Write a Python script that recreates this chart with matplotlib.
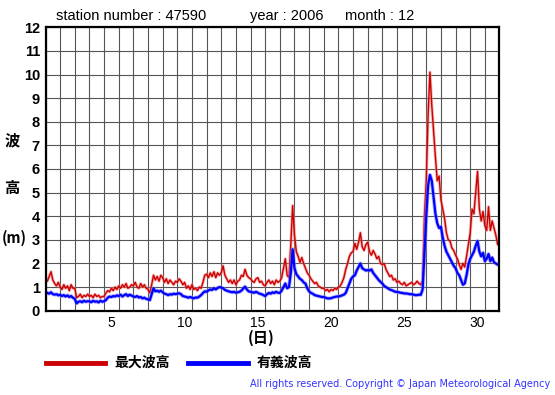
import matplotlib
matplotlib.use('Agg')
import matplotlib.pyplot as plt
import numpy as np

# 3-hourly samples, Dec 1 00h .. Dec 32 00h (8 per day + final point)
max_wave = [
    1.35, 1.25, 1.45, 1.65, 1.3, 1.15, 1.05, 1.2,
    1.0, 0.9, 1.1, 0.95, 1.05, 0.85, 1.1, 0.95,
    0.95, 0.55, 0.6, 0.7, 0.55, 0.65, 0.6, 0.7,
    0.6, 0.65, 0.55, 0.7, 0.6, 0.65, 0.55, 0.6,
    0.6, 0.75, 0.85, 0.8, 0.95, 0.85, 1.0, 0.9,
    1.05, 0.95, 1.1, 1.0, 1.15, 0.95, 1.0, 1.1,
    1.05, 1.2, 1.0, 0.95, 1.15, 1.0, 1.1, 0.95,
    0.9, 0.75, 1.1, 1.5, 1.3, 1.45, 1.25, 1.5,
    1.4, 1.2, 1.35, 1.15, 1.3, 1.2, 1.1, 1.25,
    1.2, 1.35, 1.25, 1.1, 1.2, 0.95, 1.05, 0.9,
    1.1, 0.9, 0.95, 0.85, 1.0, 0.95, 1.2, 1.5,
    1.55, 1.4, 1.6, 1.45, 1.65, 1.4, 1.6, 1.5,
    1.6, 1.9, 1.5, 1.35, 1.2, 1.3, 1.15, 1.3,
    1.1, 1.25, 1.3, 1.5, 1.45, 1.75, 1.5, 1.4,
    1.35, 1.25, 1.2, 1.35, 1.4, 1.2, 1.25, 1.1,
    1.05, 1.2, 1.3, 1.15, 1.25, 1.1, 1.3, 1.2,
    1.25, 1.4, 1.8, 2.2, 1.5, 1.4, 2.8, 4.45,
    3.2, 2.5, 2.3, 2.05, 2.25, 2.0, 1.8, 1.6,
    1.5, 1.35, 1.25, 1.15, 1.2, 1.05, 1.0, 0.95,
    0.95, 0.85, 0.9, 0.8, 0.9, 0.85, 0.95, 0.9,
    1.0, 1.05, 1.2, 1.4, 1.75, 2.0, 2.3, 2.45,
    2.5, 2.85, 2.6, 2.9, 3.3, 2.7, 2.55, 2.8,
    2.9, 2.5, 2.35, 2.55, 2.4, 2.2, 2.3, 2.0,
    1.95, 2.0, 1.75, 1.6, 1.45, 1.5, 1.3, 1.35,
    1.2, 1.25, 1.15, 1.1, 1.2, 1.05, 1.1, 1.15,
    1.2, 1.1, 1.15, 1.25, 1.15, 1.1, 1.3, 4.0,
    5.5, 8.3, 10.1, 8.7, 7.6, 6.5, 5.5, 5.7,
    4.7, 4.3, 3.9, 3.3, 3.0, 2.95, 2.65, 2.55,
    2.35, 2.2, 1.95, 1.75, 2.0, 1.85, 2.3, 2.8,
    3.3, 4.3, 4.1, 5.0, 5.9, 4.3, 3.8, 4.2,
    3.6, 3.4, 4.4, 3.4, 3.8, 3.5, 3.2, 2.8,
    3.0,
]

sig_wave = [
    0.8, 0.75, 0.72, 0.78, 0.7, 0.68, 0.7, 0.65,
    0.68, 0.62, 0.66, 0.6, 0.65, 0.58, 0.62, 0.55,
    0.5, 0.31, 0.38, 0.4, 0.36, 0.42, 0.38, 0.4,
    0.4, 0.36, 0.42, 0.38, 0.4, 0.35, 0.42, 0.38,
    0.4, 0.45, 0.55, 0.6, 0.58, 0.62, 0.6, 0.65,
    0.62, 0.68, 0.6, 0.66, 0.7, 0.62, 0.68, 0.64,
    0.6, 0.58, 0.62, 0.56, 0.58, 0.52, 0.55, 0.5,
    0.48, 0.45, 0.7, 0.95, 0.82, 0.85, 0.8, 0.85,
    0.78, 0.72, 0.7, 0.66, 0.7, 0.68, 0.72, 0.7,
    0.72, 0.74, 0.7, 0.62, 0.6, 0.58, 0.55, 0.58,
    0.55, 0.52, 0.56, 0.55, 0.6, 0.66, 0.75, 0.82,
    0.8, 0.86, 0.9, 0.88, 0.95, 0.9, 0.96, 1.0,
    0.98, 0.95, 0.88, 0.85, 0.82, 0.8, 0.78, 0.8,
    0.76, 0.78, 0.8, 0.85, 0.94, 1.02, 0.9, 0.82,
    0.8, 0.78, 0.76, 0.8, 0.76, 0.72, 0.7, 0.66,
    0.62, 0.7, 0.75, 0.72, 0.78, 0.75, 0.8, 0.76,
    0.75, 0.85, 1.0, 1.15, 0.95, 1.0, 1.6, 2.6,
    1.8, 1.55, 1.45, 1.35, 1.3, 1.2, 1.15, 0.95,
    0.82, 0.75, 0.72, 0.66, 0.64, 0.62, 0.6, 0.58,
    0.58, 0.55, 0.52, 0.52, 0.53, 0.56, 0.58, 0.6,
    0.6, 0.62, 0.65, 0.68, 0.75, 0.95, 1.15, 1.35,
    1.45, 1.5, 1.7, 1.85, 2.0, 1.8, 1.75, 1.7,
    1.72, 1.7, 1.75, 1.6, 1.5, 1.4, 1.3, 1.22,
    1.15, 1.05, 1.0, 0.95, 0.9, 0.87, 0.84, 0.8,
    0.8, 0.78, 0.76, 0.75, 0.73, 0.73, 0.72, 0.7,
    0.7, 0.68, 0.66, 0.66, 0.68, 0.67, 0.9, 2.4,
    4.0, 5.3, 5.75, 5.5, 4.8, 4.1, 3.7, 3.5,
    3.55, 3.1, 2.75, 2.5, 2.35, 2.2, 2.05, 1.9,
    1.8, 1.6, 1.5, 1.3, 1.1, 1.15, 1.5, 1.95,
    2.2, 2.35, 2.5, 2.75, 2.95, 2.5, 2.3, 2.45,
    2.1, 2.2, 2.4, 2.1, 2.25, 2.05, 2.0, 1.95,
    1.95,
]

xtick_days = [5, 10, 15, 20, 25, 30]
xtick_labels = ['5', '10', '15', '20', '25', '30']
ytick_vals = list(range(0, 13))
legend_labels = ['最大波高', '有義波高']

t = 1.0 + np.arange(len(max_wave)) * 0.125

W, H = 555, 395
fig = plt.figure(figsize=(W / 100, H / 100), dpi=100)
fig.patch.set_facecolor('white')

def fx(px):
    return px / W

def fy(py):
    return 1 - py / H

ax = fig.add_axes([fx(45.5), fy(310.7), (499.5 - 45.5) / W, (310.7 - 27.3) / H])
ax.set_xlim(1, 32)
ax.set_ylim(0, 12)

ax.set_xticks([d + 0.5 for d in xtick_days])
ax.set_xticklabels(xtick_labels, fontsize=10, family='Liberation Sans')
ax.set_xticks(np.arange(1, 33), minor=True)
ax.set_yticks(ytick_vals)
ax.set_yticklabels([str(v) for v in ytick_vals], fontsize=10.5,
                   fontweight='bold', family='Liberation Sans')
ax.tick_params(axis='both', which='both', length=0)
ax.tick_params(axis='x', pad=4)
ax.tick_params(axis='y', pad=4)
ax.grid(which='minor', axis='x', color='#555555', linewidth=0.8)
ax.grid(which='major', axis='y', color='#555555', linewidth=0.8)
ax.set_axisbelow(True)
for s in ax.spines.values():
    s.set_linewidth(1.6)
    s.set_color('black')

ax.plot(t, max_wave, color='#F08080', linewidth=2.2, alpha=0.6)
ax.plot(t, max_wave, color='#CC0000', linewidth=1.0)
ax.plot(t, sig_wave, color='#8080FF', linewidth=2.8, alpha=0.6)
ax.plot(t, sig_wave, color='#0000FF', linewidth=1.6)

cjk = ['Noto Sans CJK JP', 'DejaVu Sans']
txt = ['Liberation Sans', 'DejaVu Sans']

fig.text(fx(56), fy(16), 'station number : 47590', fontsize=10.5, family=txt,
         ha='left', va='center')
fig.text(fx(250), fy(16), 'year : 2006', fontsize=10.5, family=txt,
         ha='left', va='center')
fig.text(fx(345), fy(16), 'month : 12', fontsize=10.5, family=txt,
         ha='left', va='center')

fig.text(fx(12), fy(140), '波', fontsize=11, family=cjk, fontweight='bold',
         ha='center', va='center')
fig.text(fx(12), fy(188), '高', fontsize=11, family=cjk, fontweight='bold',
         ha='center', va='center')
fig.text(fx(14), fy(238), '(m)', fontsize=10.5, family=cjk, fontweight='bold',
         ha='center', va='center')
fig.text(fx(261), fy(338), '(日)', fontsize=11, family=cjk, fontweight='bold',
         ha='center', va='center')

fig.add_artist(plt.Line2D([fx(46), fx(105)], [fy(363), fy(363)],
                          color='#CC0000', linewidth=3.5))
fig.text(fx(114), fy(363), legend_labels[0], fontsize=10, family=cjk,
         fontweight='bold', ha='left', va='center')
fig.add_artist(plt.Line2D([fx(188), fx(248)], [fy(363), fy(363)],
                          color='#0000FF', linewidth=3.5))
fig.text(fx(257), fy(363), legend_labels[1], fontsize=10, family=cjk,
         fontweight='bold', ha='left', va='center')

fig.text(fx(550), fy(384), 'All rights reserved. Copyright © Japan Meteorological Agency',
         fontsize=7, family='DejaVu Sans', color='#3333FF', ha='right', va='center')

fig.savefig('out.png', dpi=100, facecolor='white')
